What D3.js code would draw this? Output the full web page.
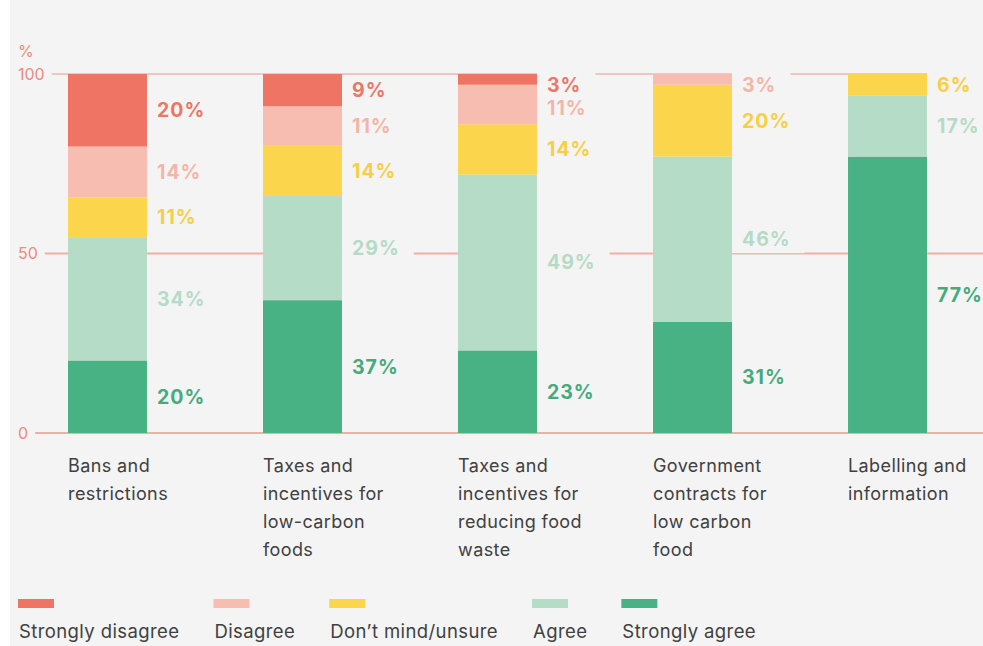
<!DOCTYPE html>
<html>
<head>
<meta charset="utf-8">
<script src="https://cdn.jsdelivr.net/npm/d3@7"></script>
<style>
  html, body { margin: 0; padding: 0; background: #ffffff; }
  svg { display: block; }
</style>
</head>
<body>
<svg id="chart" width="983" height="646"></svg>
<script>
// Policy support by type of intervention (%)
const categories = [
  ["Bans and", "restrictions"],
  ["Taxes and", "incentives for", "low-carbon", "foods"],
  ["Taxes and", "incentives for", "reducing food", "waste"],
  ["Government", "contracts for", "low carbon", "food"],
  ["Labelling and", "information"]
];
const responses = ["Strongly disagree", "Disagree", "Don\u2019t mind/unsure", "Agree", "Strongly agree"];
const stronglyDisagree = [20, 9, 3, 0, 0];
const disagree         = [14, 11, 11, 3, 0];
const dontMind         = [11, 14, 14, 20, 6];
const agree            = [34, 29, 49, 46, 17];
const stronglyAgree    = [20, 37, 23, 31, 77];
const yTicks = [0, 50, 100];

const seriesValues = [stronglyDisagree, disagree, dontMind, agree, stronglyAgree];
const fills  = ["#ef7463", "#f7bdb1", "#fbd54b", "#b4dcc6", "#49b284"];
const labelColors = ["#e97866", "#f4b5a8", "#f8cf42", "#b5dbc6", "#46aa7d"];

const svg = d3.select("#chart");
const W = 983, H = 646;
const bg = "#f4f4f4";
const sans = "Inter, 'Noto Sans', sans-serif";

svg.append("rect").attr("x", 10).attr("y", 0).attr("width", W - 10).attr("height", H).attr("fill", bg);

// table of rows, one per category
const rows = categories.map((c, i) => {
  const r = { idx: i };
  responses.forEach((k, j) => r[k] = seriesValues[j][i]);
  return r;
});

// stacked bottom-up: strongly agree first
const stackKeys = responses.slice().reverse();
const stack = d3.stack().keys(stackKeys).offset(d3.stackOffsetExpand);
const layers = stack(rows);

const x = d3.scaleBand().domain(d3.range(categories.length)).range([68, 927]).paddingInner(0.595).paddingOuter(0);
const y = d3.scaleLinear().domain([0, 100]).range([433, 74]);
const color = d3.scaleOrdinal().domain(responses).range(fills);
const labelColor = d3.scaleOrdinal().domain(responses).range(labelColors);

// gridlines
const grid = svg.append("g");
grid.selectAll("line").data(yTicks).join("line")
  .attr("x1", 10).attr("x2", W)
  .attr("y1", d => y(d)).attr("y2", d => y(d))
  .attr("stroke", d => d === 100 ? "#f2c6c0" : "#efafa6")
  .attr("stroke-width", 2);

// y tick labels with backing to leave a gap in the gridline
const tickG = svg.append("g").attr("font-family", sans)
  .attr("font-size", 16).attr("fill", "#ec8b80");
tickG.selectAll("g").data(yTicks).join("g").each(function(d) {
  const g = d3.select(this);
  const t = g.append("text").attr("x", 18).attr("y", y(d)).attr("dy", "0.35em").text(d);
  const w = t.node().getComputedTextLength();
  g.insert("rect", "text").attr("x", 10).attr("y", y(d) - 6).attr("width", 8 + w + 7).attr("height", 12).attr("fill", bg);
});
tickG.append("text").attr("x", 18).attr("y", 51).attr("dy", "0.35em").text("%");

// bars
const barG = svg.append("g");
layers.forEach(layer => {
  barG.append("g").attr("fill", color(layer.key))
    .selectAll("rect").data(layer.filter(d => d[1] > d[0])).join("rect")
    .attr("x", d => x(d.data.idx))
    .attr("y", d => y(d[1] * 100))
    .attr("height", d => y(d[0] * 100) - y(d[1] * 100))
    .attr("width", x.bandwidth());
});

// value labels to the right of each bar, placed top-down so they never collide
const labG = svg.append("g").attr("font-family", sans)
  .attr("font-size", 19.5).attr("font-weight", 700).attr("letter-spacing", 1);
categories.forEach((c, i) => {
  let prev = -Infinity;
  stackKeys.slice().reverse().forEach(key => {
    const layer = layers.find(l => l.key === key);
    const d = layer[i];
    const v = d.data[key];
    if (!v) return;
    const top = y(d[1] * 100), bot = y(d[0] * 100);
    const cy = Math.max((top + bot) / 2, y(100) + 11, prev + 23);
    prev = cy;
    const xr = x(i) + x.bandwidth();
    const g = labG.append("g");
    const t = g.append("text").attr("x", xr + 10).attr("y", cy).attr("dy", "0.36em")
      .attr("fill", labelColor(key)).text(v + "%");
    const w = t.node().getComputedTextLength();
    g.insert("rect", "text").attr("x", xr).attr("y", cy - 14)
      .attr("width", 10 + w + 14).attr("height", 28).attr("fill", bg);
  });
});

// category labels
const catG = svg.append("g").attr("font-family", sans)
  .attr("font-size", 18).attr("fill", "#404040").attr("letter-spacing", 0.4);
categories.forEach((lines, i) => {
  const t = catG.append("text").attr("x", x(i)).attr("y", 472);
  lines.forEach((ln, j) => t.append("tspan").attr("x", x(i)).attr("dy", j === 0 ? 0 : 28).text(ln));
});

// legend
const legG = svg.append("g").attr("font-family", sans)
  .attr("font-size", 18.5).attr("fill", "#404040").attr("letter-spacing", 0.4);
let lx = 18;
responses.forEach(k => {
  legG.append("rect").attr("x", lx).attr("y", 599).attr("width", 36).attr("height", 9).attr("fill", color(k));
  const t = legG.append("text").attr("x", lx + 1).attr("y", 638).text(k);
  lx += t.node().getComputedTextLength() + 35;
});
</script>
</body>
</html>
